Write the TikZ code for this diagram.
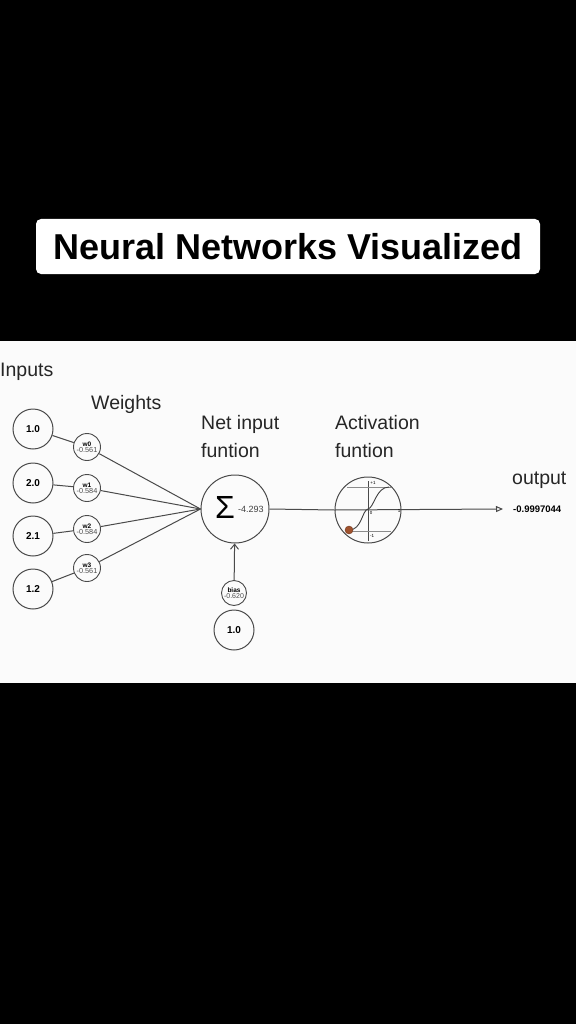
\documentclass[tikz,border=0pt]{standalone}
\usepackage{fontspec}
\setmainfont{Liberation Sans}
\usetikzlibrary{arrows.meta}
\definecolor{ln}{HTML}{4A4A4A}
\definecolor{panel}{HTML}{FBFBFB}
\definecolor{dot}{HTML}{A0522D}
\tikzset{
  inp/.style={circle,draw=ln,line width=1pt,minimum size=40pt,inner sep=0pt,font=\fontsize{10}{10}\selectfont\bfseries},
  wgt/.style={circle,draw=ln,line width=0.9pt,minimum size=27pt,inner sep=0pt,align=center,font=\fontsize{7.3}{7.3}\selectfont},
  conn/.style={draw=ln,line width=1pt},
  lbl/.style={anchor=base west,inner sep=0pt,font=\fontsize{19.5}{20}\selectfont,text=black!85}
}
\begin{document}
\begin{tikzpicture}[x=1pt,y=-1pt]
\fill[black] (0,0) rectangle (576,1024);
\useasboundingbox (0,0) rectangle (576,1024);
% title
\node[fill=white,rounded corners=5pt,minimum width=504pt,minimum height=55pt,inner sep=0pt] (titlebox) at (288,246.5) {};
\node[inner sep=0pt,font=\fontsize{36}{36}\selectfont\bfseries] (title) at (288,247) {Neural Networks Visualized};
% panel
\fill[panel] (0,341) rectangle (576,683);
% labels
\node[lbl] (linputs) at (0,376) {Inputs};
\node[lbl] (lweights) at (91,409) {Weights};
\node[lbl] (lnet1) at (201,429) {Net input};
\node[lbl] (lnet2) at (201,457) {funtion};
\node[lbl] (lact1) at (335,429) {Activation};
\node[lbl] (lact2) at (335,457) {funtion};
\node[lbl] (lout) at (512,484) {output};
% inputs
\node[inp] (i0) at (33,429) {1.0};
\node[inp] (i1) at (33,483) {2.0};
\node[inp] (i2) at (33,536) {2.1};
\node[inp] (i3) at (33,589) {1.2};
% weights
\node[wgt] (w0) at (87,447) {\textbf{\fontsize{6.5}{6.5}\selectfont w0}\\[-1.5pt]\textcolor{black!70}{-0.561}};
\node[wgt] (w1) at (87,488) {\textbf{\fontsize{6.5}{6.5}\selectfont w1}\\[-1.5pt]\textcolor{black!70}{-0.584}};
\node[wgt] (w2) at (87,529) {\textbf{\fontsize{6.5}{6.5}\selectfont w2}\\[-1.5pt]\textcolor{black!70}{-0.584}};
\node[wgt] (w3) at (87,568) {\textbf{\fontsize{6.5}{6.5}\selectfont w3}\\[-1.5pt]\textcolor{black!70}{-0.561}};
% sum
\node[circle,draw=ln,line width=1pt,minimum size=68pt,inner sep=0pt] (sum) at (235,509) {};
\node[inner sep=0pt,font=\fontsize{32}{32}\selectfont] (sig) at (225,507) {Σ};
\node[inner sep=0pt,anchor=west,font=\fontsize{9}{9}\selectfont,text=black!75] (netv) at (238,509) {-4.293};
% activation
\node[circle,draw=ln,line width=1pt,minimum size=66pt,inner sep=0pt] (act) at (368,510) {};
% bias
\node[wgt,minimum size=25pt,font=\fontsize{7}{7}\selectfont] (bias) at (234,593) {\textbf{\fontsize{6.5}{6.5}\selectfont bias}\\[-1.5pt]\textcolor{black!70}{-0.620}};
\node[inp] (b1) at (234,630) {1.0};
% output
\coordinate (outend) at (503,509);
\node[inner sep=0pt,anchor=west,font=\fontsize{9.5}{10}\selectfont\bfseries] (outv) at (513,509) {-0.9997044};
% connections
\foreach \k in {0,1,2,3}{
  \draw[conn] (i\k) -- (w\k);
  \draw[conn] (w\k) -- (sum.west);
}
\draw[conn] (sum.east) -- (act.west);
\draw[conn,-{Triangle[open,length=7pt,width=6pt]}] (act.west) -- (outend);
\draw[conn,-{Straight Barb[length=5pt,width=8pt]}] (bias) -- (sum);
% activation inner
\begin{scope}[line width=0.6pt,draw=ln]
\draw (368,481) -- (368,541);
\draw[black!45] (347,487) -- (391,487);
\draw[black!45] (347,531) -- (391,531);
\draw[line width=0.9pt,draw=black!75] (349,530) .. controls (362,530) and (362,510) .. (368,509) .. controls (374,508) and (376,487) .. (389,487);
\end{scope}
\node[inner sep=0pt,font=\fontsize{4.5}{5}\selectfont] (pl1) at (373,483) {+1};
\node[inner sep=0pt,font=\fontsize{4.5}{5}\selectfont] (mi1) at (372,536) {-1};
\node[inner sep=0pt,font=\fontsize{4.5}{5}\selectfont] (zer) at (371,513) {0};
\node[inner sep=0pt,font=\fontsize{4.5}{5}\selectfont] (one) at (399,511) {1};
\node[circle,fill=dot,draw=dot!70!black,inner sep=0pt,minimum size=8pt] (pt) at (349,530) {};
\end{tikzpicture}
\end{document}
